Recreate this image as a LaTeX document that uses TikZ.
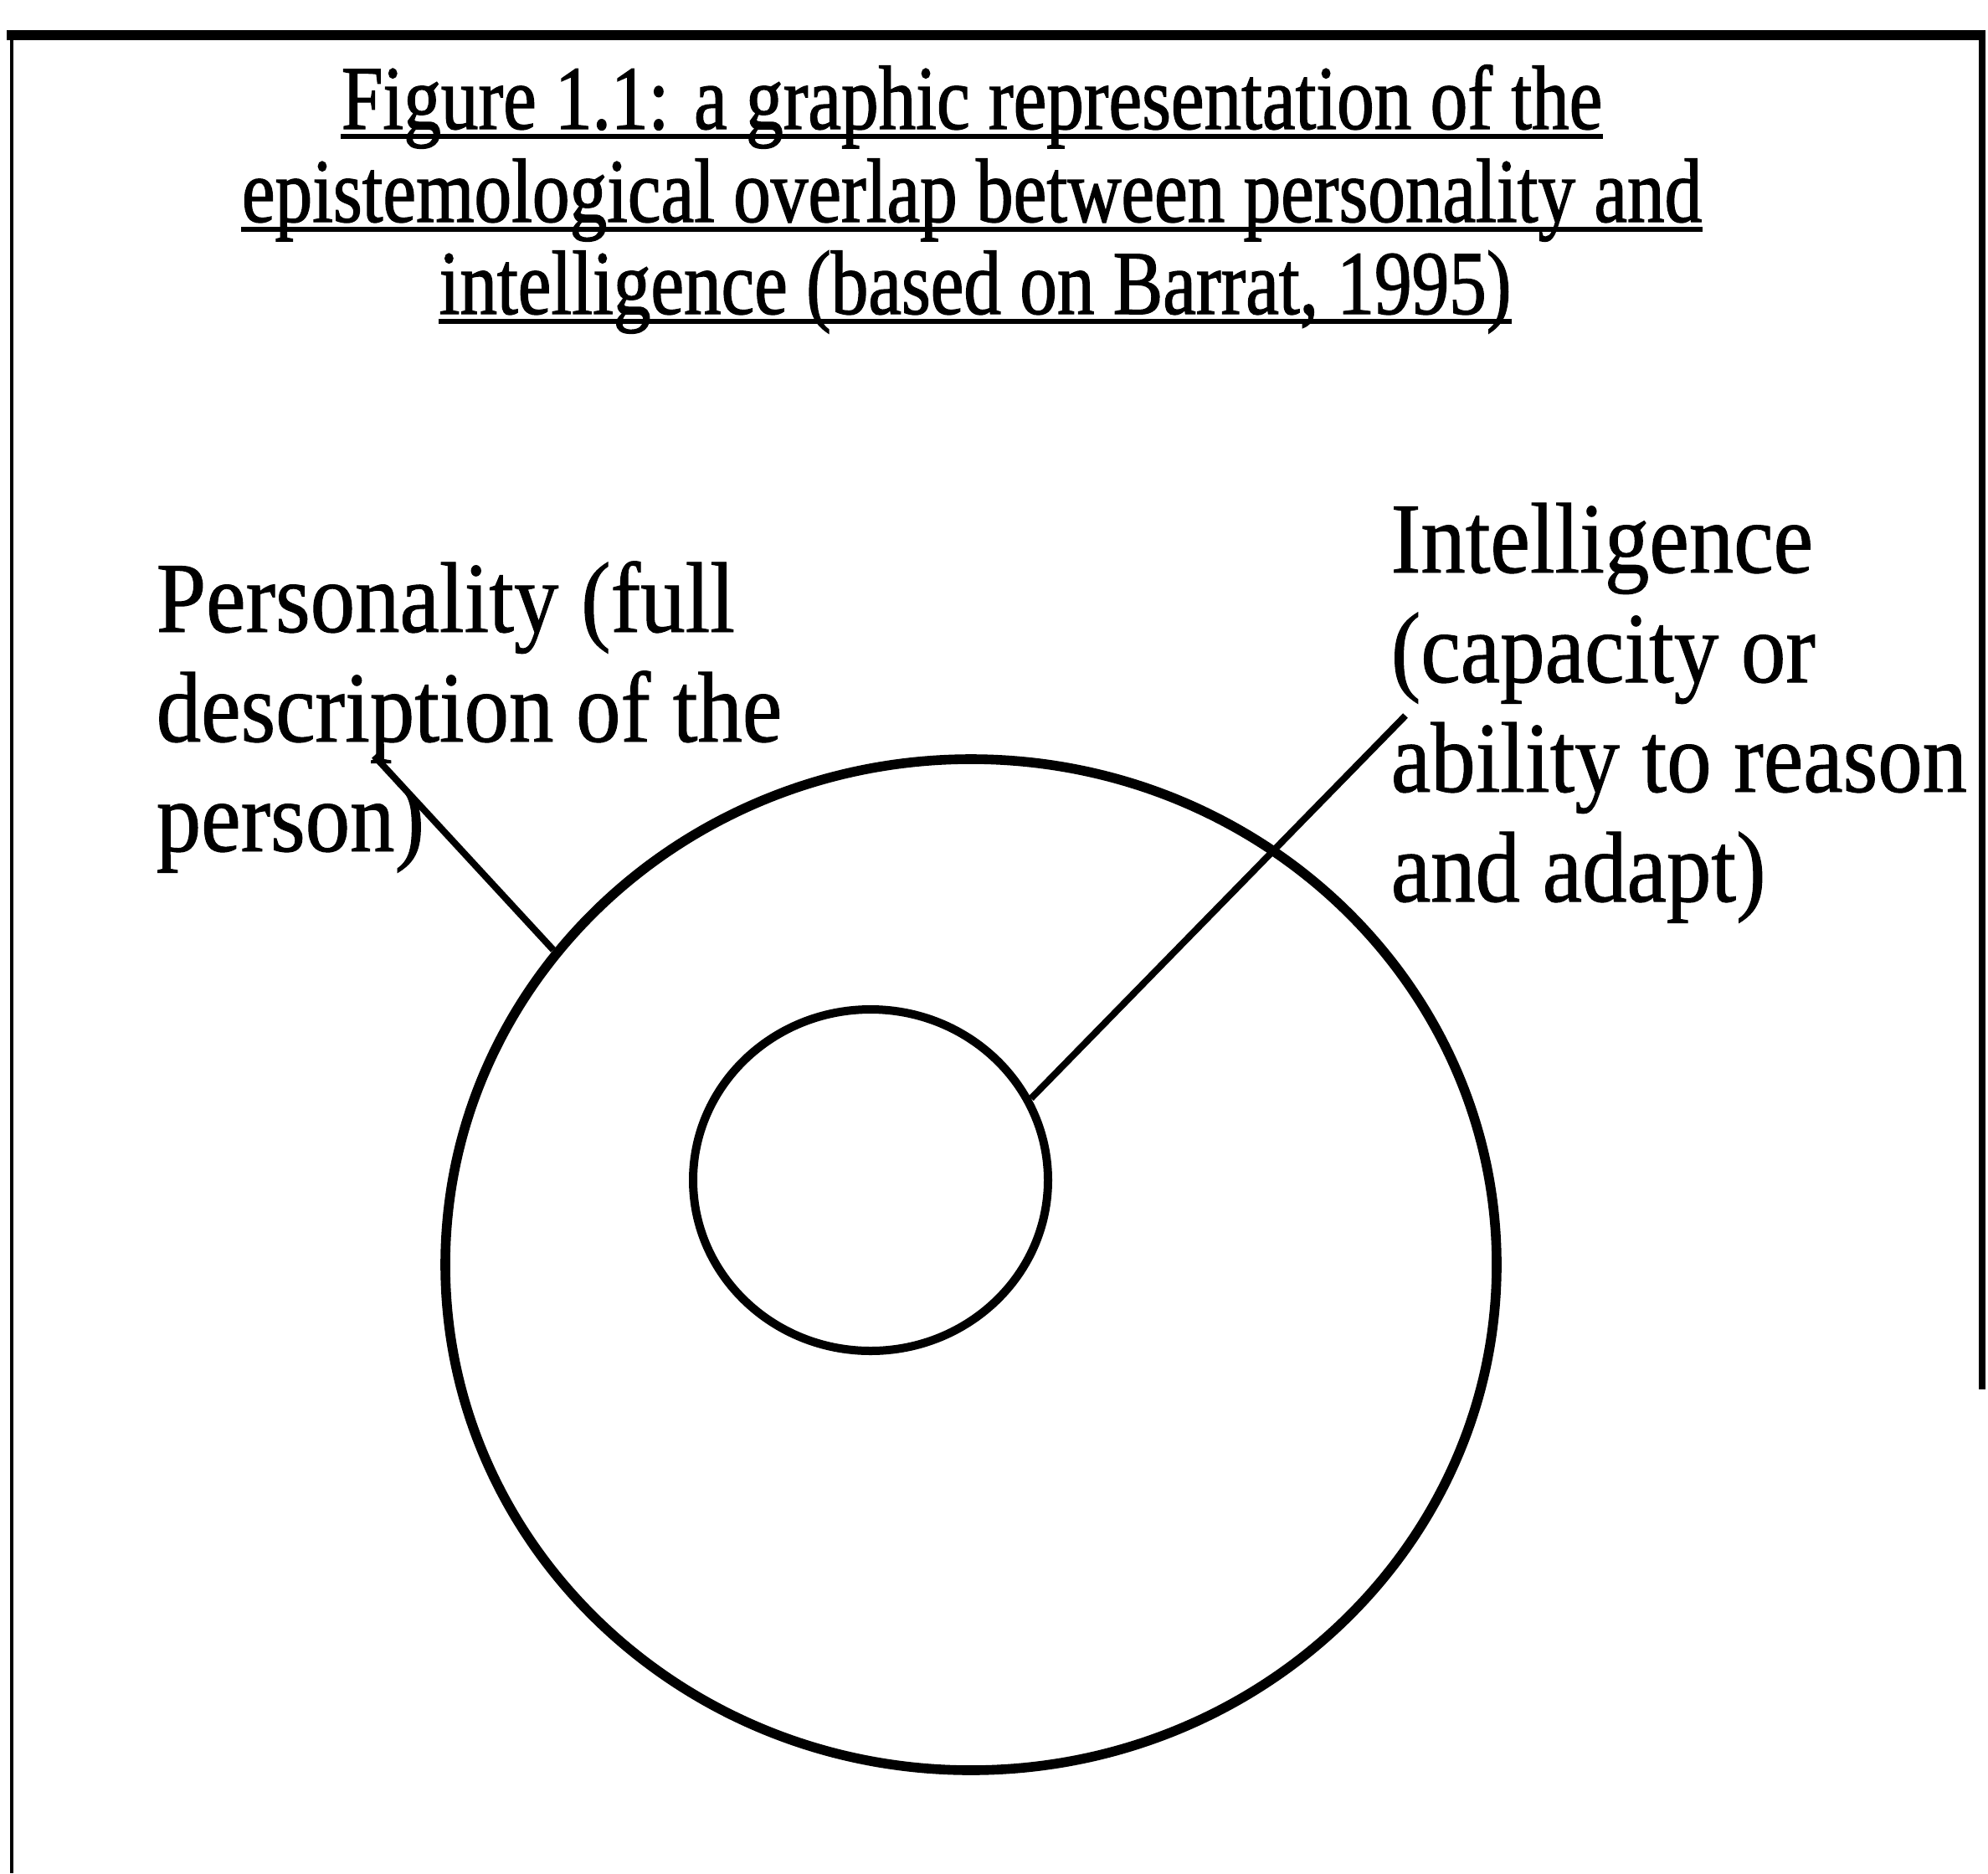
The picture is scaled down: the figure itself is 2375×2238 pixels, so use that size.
\documentclass[tikz,border=0pt]{standalone}
\usepackage{fontspec}
\setmainfont{Liberation Serif}
\newfontfamily\labfont[FakeStretch=0.89,FakeBold=0.8]{Liberation Serif}
\newfontfamily\titfont[FakeStretch=0.82,FakeBold=1.2]{Liberation Serif}
\usetikzlibrary{shapes.geometric}
\begin{document}
\begin{tikzpicture}[x=0.25pt,y=-0.25pt,
  titletext/.style={font={\titfont\fontsize{27.2pt}{27.5pt}\selectfont}, inner sep=0pt, anchor=base},
  lbltext/.style={font={\labfont\fontsize{30pt}{32.75pt}\selectfont}, inner sep=0pt, align=left, anchor=base west},
  ring/.style={draw, ellipse, inner sep=0pt},
  uline/.style={line width=1.5pt},
  conn/.style={line width=2pt},
  frameline/.style={line cap=butt}
]
\useasboundingbox (0,0) rectangle (2375,2238);
% frame
\coordinate (ftl) at (14,42);
\coordinate (ftr) at (2368,42);
\coordinate (fbl) at (14,2238);
\coordinate (fbr) at (2368,1660);
\draw[frameline, line width=3pt] (8,42) -- (2372,42);
\draw[frameline, line width=1pt] (ftl) -- (fbl);
\draw[frameline, line width=2pt] (ftr) -- (fbr);
% title
\node[titletext] (t1) at (1161,154) {Figure 1.1: a graphic representation of the};
\node[titletext] (t2) at (1161,265) {epistemological overlap between personality and};
\node[titletext] (t3) at (1165,375) {intelligence (based on Barrat, 1995)};
\foreach \t in {t1,t2,t3}{
  \draw[uline] ([yshift=-2.2pt]\t.base west) -- ([yshift=-2.2pt]\t.base east);
}
% circles
\node[ring, line width=2.9pt, minimum width=314pt, minimum height=302pt] (outer) at (1160,1511) {};
\node[ring, line width=2.5pt, minimum width=106pt, minimum height=102pt] (inner) at (1040,1410) {};
% labels (anchored at the baseline of their last line)
\node[lbltext] (pers) at (186,1017) {Personality (full\\description of the\\person)};
\node[lbltext] (intel) at (1661,1077) {Intelligence\\(capacity or\\ability to reason\\and adapt)};
% connectors
\coordinate (pend) at (447,903);
\coordinate (iend) at (1679,855);
\draw[conn] (pend) -- (outer.143.7);
\draw[conn] (inner.27.6) -- (iend);
\end{tikzpicture}
\end{document}
